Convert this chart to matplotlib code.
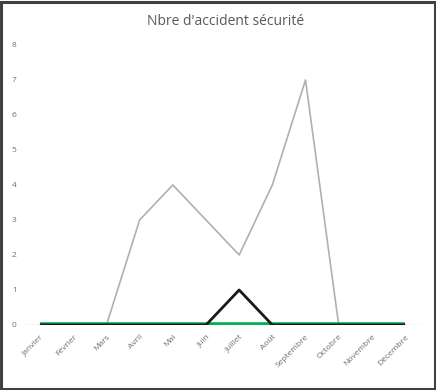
import matplotlib.pyplot as plt
from matplotlib.patches import Rectangle

mois = ["Janvier", "Février", "Mars", "Avril", "Mai", "Juin", "Juillet",
        "Août", "Septembre", "Octobre", "Novembre", "Décembre"]
serie_grise = [0, 0, 0, 3, 4, 3, 2, 4, 7, 0, 0, 0]
serie_noire = [0, 0, 0, 0, 0, 0, 1, 0, 0, 0, 0, 0]
serie_verte = [0, 0, 0, 0, 0, 0, 0, 0, 0, 0, 0, 0]

plt.rcParams['font.family'] = ['Open Sans', 'DejaVu Sans']

fig = plt.figure(figsize=(4.36, 3.90), dpi=100)
ax = fig.add_axes([0.054, 0.1667, 0.913, 0.718])

x = range(len(mois))
ax.axhline(0, color="#d9d9d9", lw=1, zorder=1)
ax.plot(x, serie_grise, color="#b0b0b0", lw=1.2, zorder=2)
ax.plot(x, serie_verte, color="#00b050", lw=4, zorder=3, solid_capstyle="butt")
ax.plot(x, serie_noire, color="#1a1a1a", lw=2, zorder=4, solid_capstyle="butt")

ax.set_xlim(-0.5, 11.5)
ax.set_ylim(0, 8)
ax.set_yticks(range(0, 9))
ax.set_xticks(list(x))
ax.set_xticklabels(mois, rotation=45, ha="right", rotation_mode="anchor")
ax.tick_params(axis="both", length=0, labelsize=6, labelcolor="#6f6f6f")
ax.tick_params(axis="y", pad=5)
ax.tick_params(axis="x", pad=6)
for s in ax.spines.values():
    s.set_visible(False)

fig.text(0.517, 0.945, "Nbre d'accident sécurité", ha="center", va="center",
         fontsize=10, color="#595959")

# cadre autour du graphique
fig.patches.append(Rectangle((0.002, 0.003), 0.995, 0.993, transform=fig.transFigure,
                             fill=False, edgecolor="#404040", lw=2.2))

fig.savefig("out.png", dpi=100)
